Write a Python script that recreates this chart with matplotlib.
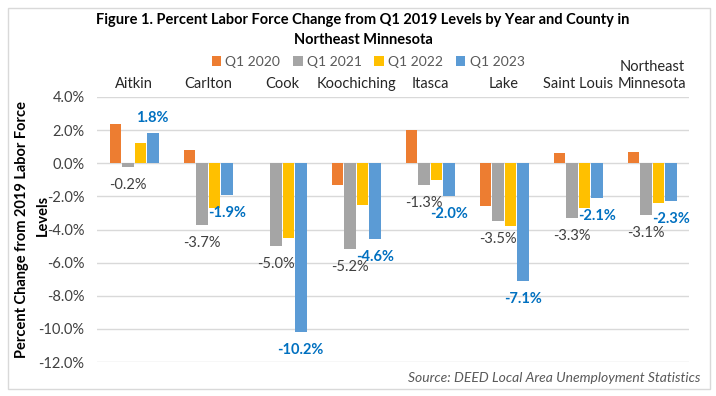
import numpy as np
import matplotlib.pyplot as plt
from matplotlib.patches import Rectangle
from matplotlib.transforms import blended_transform_factory

plt.rcParams['font.family'] = ['Lato', 'DejaVu Sans']

counties = ['Aitkin', 'Carlton', 'Cook', 'Koochiching', 'Itasca', 'Lake',
            'Saint Louis', 'Northeast\nMinnesota']
series = ['Q1 2020', 'Q1 2021', 'Q1 2022', 'Q1 2023']
q1_2020 = [2.4, 0.8, 0.0, -1.3, 2.0, -2.6, 0.6, 0.7]
q1_2021 = [-0.2, -3.7, -5.0, -5.2, -1.3, -3.5, -3.3, -3.1]
q1_2022 = [1.2, -2.7, -4.5, -2.5, -1.0, -3.8, -2.7, -2.4]
q1_2023 = [1.8, -1.9, -10.2, -4.6, -2.0, -7.1, -2.1, -2.3]
colors = ['#ED7D31', '#A5A5A5', '#FFC000', '#5B9BD5']

fig = plt.figure(figsize=(7.16, 3.96), dpi=100)
ax = fig.add_axes([97/716, 1-362/396, 592/716, 265/396])

x = np.arange(len(counties))
step = 12.5/74
w = 11.5/74
vals = [q1_2020, q1_2021, q1_2022, q1_2023]
for k in range(4):
    ax.bar(x + (k-1.5)*step, vals[k], w, color=colors[k], label=series[k], zorder=3)

# data labels only for 2021 (gray) and 2023 (blue)
for k, col, bold in [(1, '#404040', False), (3, '#0070C0', True)]:
    for i, v in enumerate(vals[k]):
        off = 11 if v >= 0 else -13
        ax.annotate('%.1f%%' % v, (x[i] + (k-1.5)*step, v), xytext=(0, off),
                    textcoords='offset points', ha='center', va='center',
                    fontsize=10.5, color=col, fontweight='bold' if bold else 'normal')

ax.set_xlim(-0.5, len(counties)-0.5)
ax.set_ylim(-12, 4)
ax.set_yticks(np.arange(-12, 5, 2))
ax.set_yticklabels(['%.1f%%' % t for t in np.arange(-12, 5, 2)], fontsize=10.5, color='#404040')
ax.set_xticks([])
ax.tick_params(axis='y', length=0, pad=9)
ax.grid(axis='y', color='#D9D9D9', lw=1, zorder=0)
for s in ax.spines.values():
    s.set_visible(False)

tr = blended_transform_factory(ax.transData, fig.transFigure)
for i, c in enumerate(counties):
    ax.text(x[i], 1-91/396, c, transform=tr, ha='center', va='bottom',
            fontsize=10.5, color='#262626', linespacing=1.3)

fig.text(363/716, 1-30/396,
         'Figure 1. Percent Labor Force Change from Q1 2019 Levels by Year and County in\nNortheast Minnesota',
         ha='center', va='center', fontsize=10.5, fontweight='bold', linespacing=1.6)

fig.legend(loc='center', bbox_to_anchor=(368/716, 1-62/396), ncol=4, frameon=False,
           fontsize=10, handlelength=0.7, handleheight=0.7, handletextpad=0.3,
           columnspacing=0.9, labelcolor='#595959')

fig.text(22/716, 1-230/396, 'Percent Change from 2019 Labor Force', rotation=90,
         ha='center', va='center', fontsize=10.5, fontweight='bold')
fig.text(43/716, 1-215/396, 'Levels', rotation=90,
         ha='center', va='center', fontsize=10.5, fontweight='bold')

fig.text(700/716, 1-378/396, 'Source: DEED Local Area Unemployment Statistics',
         ha='right', va='center', fontsize=10, style='italic', color='#595959')

fig.patches.append(Rectangle((8/716, 7/396), 702/716, 381/396, transform=fig.transFigure,
                             fill=False, edgecolor='#D9D9D9', lw=1))

fig.savefig('out.png', dpi=100)
